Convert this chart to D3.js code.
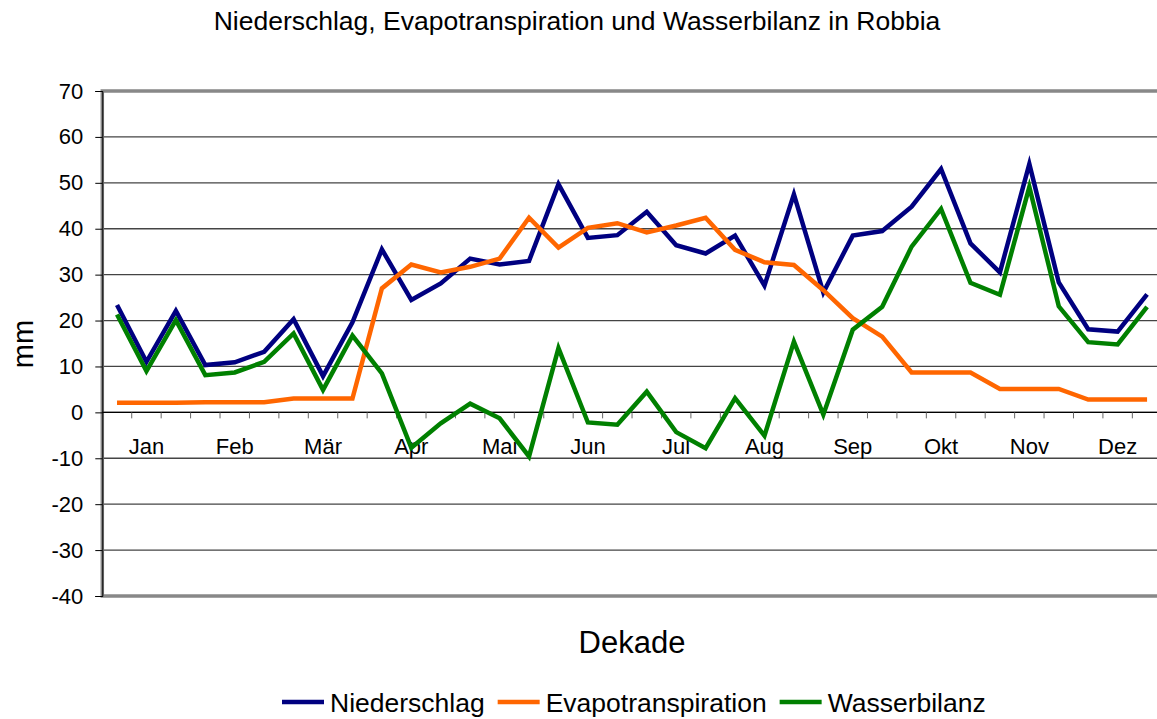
<!DOCTYPE html>
<html>
<head>
<meta charset="utf-8">
<script src="https://cdn.jsdelivr.net/npm/d3@7"></script>
<style>
  body { margin: 0; background: #fff; }
  text { font-family: "Liberation Sans", Arial, sans-serif; fill: #000; }
</style>
</head>
<body>
<div id="chart"></div>
<script>
// months (one label per 3 dekades)
var months = ["Jan", "Feb", "Mär", "Apr", "Mai", "Jun", "Jul", "Aug", "Sep", "Okt", "Nov", "Dez"];
var dekades = d3.range(36);

// values, mm per dekade
var niederschlag = [23.4, 11.0, 22.1, 10.3, 10.9, 13.2, 20.3, 7.9, 19.6,
  35.5, 24.5, 28.1, 33.5, 32.2, 33.0, 49.7, 38.0, 38.6,
  43.7, 36.4, 34.6, 38.5, 27.6, 47.5, 26.1, 38.5, 39.5,
  44.8, 53.0, 36.8, 30.5, 54.1, 28.3, 18.1, 17.6, 25.7];
var evapotranspiration = [2.1, 2.1, 2.1, 2.2, 2.2, 2.2, 3.0, 3.0, 3.0,
  27.0, 32.2, 30.5, 31.7, 33.5, 42.4, 35.9, 40.2, 41.2,
  39.2, 40.7, 42.4, 35.4, 32.7, 32.1, 26.6, 20.5, 16.5,
  8.7, 8.7, 8.7, 5.1, 5.1, 5.1, 2.8, 2.8, 2.8];
var wasserbilanz = [21.3, 9.0, 20.1, 8.1, 8.7, 11.0, 17.2, 4.9, 16.7,
  8.5, -7.7, -2.4, 1.9, -1.3, -9.6, 14.0, -2.2, -2.7,
  4.5, -4.3, -7.8, 3.1, -5.1, 15.4, -0.5, 18.0, 23.0,
  36.1, 44.3, 28.2, 25.6, 49.1, 23.1, 15.3, 14.8, 23.0];

var series = [
  {name: "Niederschlag", values: niederschlag, color: "#000080"},
  {name: "Evapotranspiration", values: evapotranspiration, color: "#FF6600"},
  {name: "Wasserbilanz", values: wasserbilanz, color: "#008000"}
];

var width = 1157, height = 719;
var margin = {top: 91, left: 102.3, bottom: 596};
var plotRight = margin.left + 36 * 29.43;

var svg = d3.select("#chart").append("svg")
  .attr("width", width)
  .attr("height", height);

var x = d3.scaleBand().domain(dekades).range([margin.left, plotRight]);
var y = d3.scaleLinear().domain([-40, 70]).range([margin.bottom, margin.top]);

// title
svg.append("text")
  .attr("x", 577).attr("y", 30)
  .attr("text-anchor", "middle")
  .style("font-size", "26.5px")
  .text("Niederschlag, Evapotranspiration und Wasserbilanz in Robbia");

// gridlines
svg.append("g")
  .selectAll("line")
  .data(y.ticks(11))
  .enter().append("line")
  .attr("x1", margin.left).attr("x2", plotRight)
  .attr("y1", function(d) { return y(d); })
  .attr("y2", function(d) { return y(d); })
  .attr("stroke", "#444")
  .attr("stroke-width", 1.3);

// plot border (grey frame)
svg.append("rect")
  .attr("x", margin.left).attr("y", margin.top)
  .attr("width", plotRight - margin.left)
  .attr("height", margin.bottom - margin.top)
  .attr("fill", "none")
  .attr("stroke", "#888")
  .attr("stroke-width", 3.5);

// y axis
var yAxis = svg.append("g")
  .attr("transform", "translate(" + margin.left + ",0)")
  .call(d3.axisLeft(y).ticks(11).tickSize(7).tickPadding(12)
    .tickFormat(function(d) { return String(d).replace("\u2212", "-"); }));
yAxis.select(".domain").attr("stroke", "#000").attr("stroke-width", 1);
yAxis.selectAll(".tick line").attr("stroke", "#000");
yAxis.selectAll("text")
  .style("font-size", "22px")
  .style("font-family", "'Liberation Sans', Arial, sans-serif")
  .attr("fill", "#000");

// x axis at zero with tick marks between categories
var xAxisG = svg.append("g");
xAxisG.append("line")
  .attr("x1", margin.left).attr("x2", plotRight)
  .attr("y1", y(0)).attr("y2", y(0))
  .attr("stroke", "#000").attr("stroke-width", 1.3);
xAxisG.selectAll(".xt")
  .data(dekades.slice(1))
  .enter().append("line")
  .attr("x1", function(d) { return x(d); })
  .attr("x2", function(d) { return x(d); })
  .attr("y1", y(0)).attr("y2", y(0) + 6)
  .attr("stroke", "#666").attr("stroke-width", 1);
xAxisG.selectAll(".ml")
  .data(months)
  .enter().append("text")
  .attr("x", function(d, i) { return x(i * 3 + 1) + x.bandwidth() / 2; })
  .attr("y", 454)
  .attr("text-anchor", "middle")
  .style("font-size", "22px")
  .text(function(d) { return d; });

// lines
var line = d3.line()
  .x(function(d, i) { return x(i) + x.bandwidth() / 2; })
  .y(function(d) { return y(d); });

svg.append("g").selectAll("path")
  .data(series)
  .enter().append("path")
  .attr("d", function(s) { return line(s.values); })
  .attr("fill", "none")
  .attr("stroke", function(s) { return s.color; })
  .attr("stroke-width", 4.5)
  .attr("stroke-linejoin", "miter");

// axis titles
svg.append("text")
  .attr("transform", "translate(33,344) rotate(-90)")
  .attr("text-anchor", "middle")
  .style("font-size", "29px")
  .text("mm");

svg.append("text")
  .attr("x", 632).attr("y", 653)
  .attr("text-anchor", "middle")
  .style("font-size", "31px")
  .text("Dekade");

// legend, laid out from the measured text widths
var lx = 282;
series.forEach(function(s) {
  var g = svg.append("g").attr("transform", "translate(" + lx + ",702)");
  g.append("line")
    .attr("x1", 0).attr("x2", 42)
    .attr("stroke", s.color)
    .attr("stroke-width", 4.5);
  var t = g.append("text")
    .attr("x", 48).attr("y", 10)
    .style("font-size", "26.5px")
    .text(s.name);
  lx += 48 + t.node().getComputedTextLength() + 13;
});
</script>
</body>
</html>
